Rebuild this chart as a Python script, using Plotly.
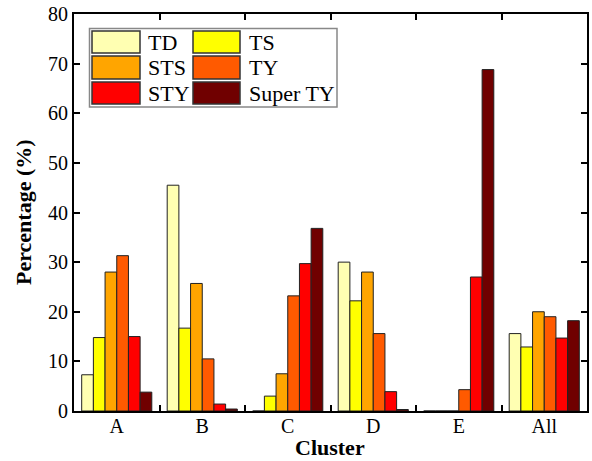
import plotly.graph_objects as go

clusters = ["A", "B", "C", "D", "E", "All"]
series_names = ["TD", "TS", "STS", "TY", "STY", "Super TY"]
td = [7.3, 45.5, 0.0, 30.0, 0.0, 15.6]
ts = [14.8, 16.7, 3.0, 22.2, 0.0, 12.9]
sts = [28.0, 25.7, 7.5, 28.0, 0.0, 20.0]
ty = [31.3, 10.5, 23.2, 15.6, 4.3, 19.0]
sty = [15.0, 1.4, 29.7, 3.9, 27.0, 14.7]
super_ty = [3.8, 0.4, 36.8, 0.3, 68.8, 18.2]
values = [td, ts, sts, ty, sty, super_ty]
colors = ["#FFFFB2", "#FFFF00", "#FFA500", "#FF5A00", "#FF0000", "#700000"]

FONT = "Liberation Serif"
W, H = 592, 461
L, R, T, B = 74, 5, 14, 50
PW, PH = W - L - R, H - T - B

def px(x):
    return (x - L) / PW

def py(y):
    return (H - B - y) / PH

fig = go.Figure()
for name, vals, col in zip(series_names, values, colors):
    fig.add_trace(go.Bar(
        x=clusters, y=vals, name=name, showlegend=False,
        marker=dict(color=col, line=dict(color="#222222", width=1)),
    ))

# custom legend (large swatches like the original)
shapes = [dict(type="rect", xref="paper", yref="paper",
               x0=px(89.5), x1=px(337), y0=py(107), y1=py(28.5),
               line=dict(color="#888888", width=1.5), fillcolor="white", layer="above")]
annotations = []
rows = [(31, 53), (56, 79), (82, 104)]
cols = [(92, 140, 146), (193, 240, 247)]
for i, (name, col) in enumerate(zip(series_names, colors)):
    r, c = divmod(i, 2)
    y0, y1 = rows[r]
    x0, x1, tx = cols[c]
    shapes.append(dict(type="rect", xref="paper", yref="paper",
                       x0=px(x0), x1=px(x1), y0=py(y1), y1=py(y0),
                       line=dict(color="#333333", width=1.5), fillcolor=col, layer="above"))
    annotations.append(dict(xref="paper", yref="paper", x=px(tx), y=py((y0 + y1) / 2),
                            text=name, showarrow=False, xanchor="left", yanchor="middle",
                            font=dict(family=FONT, size=22, color="black")))

# axis titles
annotations.append(dict(xref="paper", yref="paper", x=px(330), y=py(447),
                        text="<b>Cluster</b>", showarrow=False,
                        xanchor="center", yanchor="middle",
                        font=dict(family=FONT, size=22, color="black")))
annotations.append(dict(xref="paper", yref="paper", x=px(24), y=py(212),
                        text="<b>Percentage (%)</b>", showarrow=False, textangle=-90,
                        xanchor="center", yanchor="middle",
                        font=dict(family=FONT, size=22, color="black")))

fig.update_layout(
    width=W, height=H,
    margin=dict(l=L, r=R, t=T, b=B),
    paper_bgcolor="white", plot_bgcolor="white",
    barmode="group", bargap=0.18, bargroupgap=0,
    font=dict(family=FONT, size=20, color="black"),
    shapes=shapes, annotations=annotations,
    xaxis=dict(
        automargin=False,
        showline=True, linewidth=2, linecolor="black", mirror="ticks",
        ticks="inside", ticklen=6, tickwidth=2, tickcolor="black",
        tickson="boundaries", showgrid=False, zeroline=False,
        tickfont=dict(family=FONT, size=20), ticklabelstandoff=-4,
    ),
    yaxis=dict(
        automargin=False,
        range=[0, 80], dtick=10,
        showline=True, linewidth=2, linecolor="black", mirror="ticks",
        ticks="inside", ticklen=6, tickwidth=2, tickcolor="black",
        showgrid=False, zeroline=False,
        tickfont=dict(family=FONT, size=20),
    ),
)

fig.write_html("out.html", config={"displayModeBar": False},
               post_script="document.body.style.margin='0';")
